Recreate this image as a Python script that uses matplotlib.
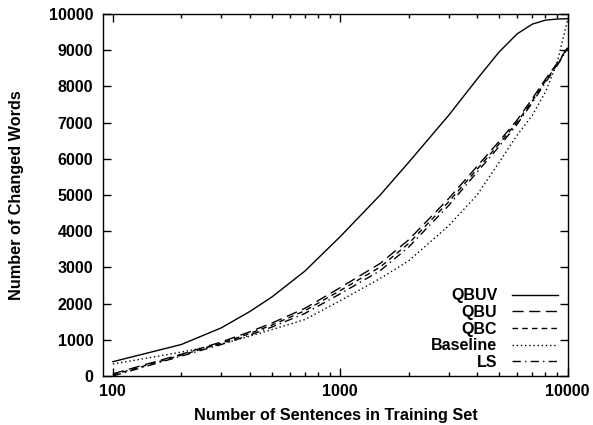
import matplotlib
matplotlib.use("Agg")
import matplotlib.pyplot as plt
from matplotlib.ticker import FixedLocator, NullFormatter

plt.rcParams['font.family'] = ['Liberation Sans', 'DejaVu Sans']
plt.rcParams['font.weight'] = 'bold'

sentences = [100, 200, 300, 400, 500, 700, 1000, 1500, 2000, 3000, 4000,
             5000, 6000, 7000, 8000, 9000, 10000]

qbuv = [395, 870, 1330, 1780, 2180, 2900, 3850, 5000, 5900, 7200, 8200,
        8950, 9450, 9720, 9830, 9860, 9870]
qbu = [60, 600, 940, 1220, 1460, 1870, 2440, 3110, 3760, 4900, 5790,
       6480, 7070, 7660, 8200, 8640, 9070]
qbc = [30, 575, 905, 1175, 1405, 1805, 2360, 3010, 3660, 4810, 5710,
       6410, 7010, 7600, 8150, 8600, 9050]
baseline = [330, 660, 880, 1100, 1280, 1560, 2080, 2695, 3180, 4150, 5000,
            5900, 6650, 7200, 7850, 8650, 9830]
ls = [0, 550, 870, 1130, 1350, 1730, 2270, 2910, 3560, 4710, 5630,
      6340, 6950, 7550, 8110, 8570, 9040]

x_ticks = [100, 1000, 10000]
x_tick_labels = ['100', '1000', '10000']
y_ticks = [0, 1000, 2000, 3000, 4000, 5000, 6000, 7000, 8000, 9000, 10000]

fig = plt.figure(figsize=(5.93, 4.25), dpi=100)
ax = fig.add_axes([103/593, 1 - 376/425, 465/593, 362/425])

lw = 1.0
ax.plot(sentences, qbuv, color='black', lw=lw, linestyle='-', label='QBUV')
ax.plot(sentences, qbu, color='black', lw=lw, linestyle=(0, (8, 4)), label='QBU')
ax.plot(sentences, qbc, color='black', lw=lw, linestyle=(0, (4, 3)), label='QBC')
ax.plot(sentences, baseline, color='black', lw=lw, linestyle=(0, (1, 2)), label='Baseline')
ax.plot(sentences, ls, color='black', lw=lw, linestyle=(0, (6, 3, 1, 3)), label='LS')

ax.set_xscale('log')
ax.set_xlim(90.5, 10050)
ax.set_ylim(0, 10000)

ax.xaxis.set_major_locator(FixedLocator(x_ticks))
ax.set_xticklabels(x_tick_labels)
minor = [m * d for d in (100, 1000) for m in range(2, 10)]
ax.xaxis.set_minor_locator(FixedLocator(minor))
ax.xaxis.set_minor_formatter(NullFormatter())
ax.set_yticks(y_ticks)
ax.set_yticklabels([str(v) for v in y_ticks])

ax.tick_params(which='both', direction='in', top=True, right=True, width=1.0)
ax.tick_params(which='major', length=6, labelsize=11.5, pad=6)
ax.tick_params(which='minor', length=3)
ax.tick_params(axis='y', pad=7)
for sp in ax.spines.values():
    sp.set_linewidth(1.0)

ax.set_xlabel('Number of Sentences in Training Set', fontsize=11.7, fontweight='bold', labelpad=6)
ax.set_ylabel('Number of Changed Words', fontsize=11.7, fontweight='bold', labelpad=18)

leg = ax.legend(loc='lower right', bbox_to_anchor=(0.9785, 0.017), markerfirst=False,
                frameon=False, fontsize=11.5, handlelength=2.9, handletextpad=0.9,
                labelspacing=0.1, borderpad=0, borderaxespad=0)
for t in leg.get_texts():
    t.set_fontweight('bold')

fig.savefig('out.png', dpi=100)
